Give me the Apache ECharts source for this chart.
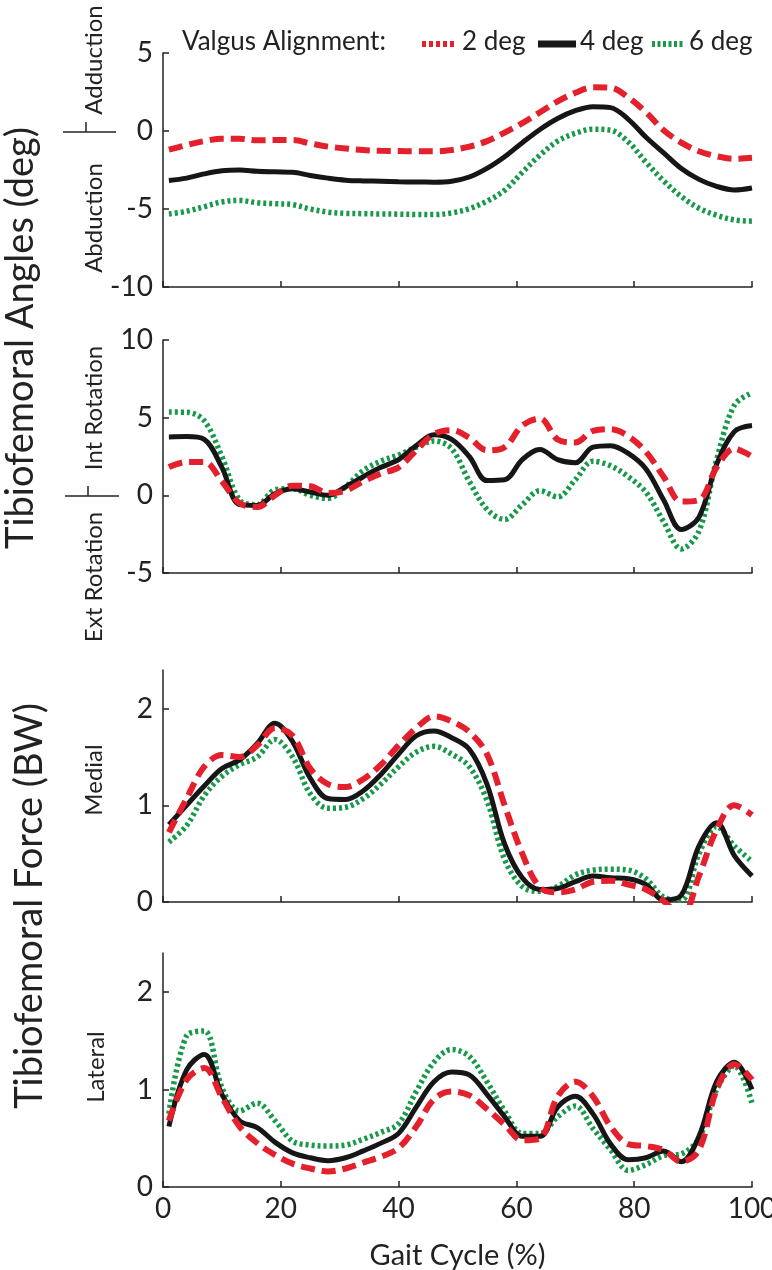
<!DOCTYPE html>
<html>
<head>
<meta charset="utf-8">
<script src="https://cdn.jsdelivr.net/npm/echarts@6/dist/echarts.min.js"></script>
<style>
html,body{margin:0;padding:0;background:#fff;}
#chart{width:772px;height:1270px;}
</style>
</head>
<body>
<div id="chart"></div>
<script>
// ---- data ----
const gaitPct = [1,4,7,10,13,16,19,22,25,28,31,34,37,40,43,46,49,52,55,58,61,64,67,70,73,76,79,82,85,88,91,94,97,100];
const seriesNames = ['2 deg','4 deg','6 deg'];

// Panel 1: Abduction/Adduction angle (deg)
const adduction2 = [-1.2,-0.9,-0.65,-0.5,-0.5,-0.6,-0.58,-0.58,-0.8,-1.0,-1.12,-1.22,-1.27,-1.29,-1.3,-1.3,-1.22,-1.0,-0.65,-0.1,0.5,1.2,1.9,2.45,2.8,2.78,2.15,1.2,0.05,-0.75,-1.3,-1.62,-1.78,-1.72];
const adduction4 = [-3.18,-3.02,-2.75,-2.55,-2.5,-2.58,-2.62,-2.65,-2.85,-3.02,-3.15,-3.2,-3.22,-3.25,-3.27,-3.28,-3.22,-2.95,-2.4,-1.65,-0.75,0.1,0.8,1.3,1.56,1.5,0.75,-0.4,-1.4,-2.4,-3.1,-3.55,-3.78,-3.65];
const adduction6 = [-5.32,-5.15,-4.85,-4.55,-4.45,-4.6,-4.66,-4.72,-5.0,-5.2,-5.28,-5.3,-5.32,-5.33,-5.35,-5.36,-5.25,-4.98,-4.5,-3.8,-2.65,-1.55,-0.65,-0.15,0.12,0.05,-0.7,-2.0,-3.2,-4.2,-4.95,-5.4,-5.7,-5.78];

// Panel 2: Int/Ext rotation (deg)
const rotation2 = [1.82,2.15,2.15,0.9,-0.5,-0.75,0.0,0.62,0.58,0.15,0.3,0.9,1.4,1.8,2.9,3.95,4.2,3.7,2.9,3.1,4.5,4.95,3.6,3.4,4.15,4.25,3.8,2.8,1.2,-0.4,-0.3,1.8,3.0,2.5];
const rotation4 = [3.76,3.78,3.6,1.8,-0.6,-0.65,0.1,0.43,0.21,0.0,0.55,1.2,1.8,2.3,3.2,3.9,3.6,2.5,0.95,1.0,2.3,2.95,2.3,2.1,3.1,3.2,2.7,1.7,-0.3,-2.2,-1.4,2.0,4.1,4.5];
const rotation6 = [5.36,5.35,4.8,2.5,-0.3,-0.6,0.35,0.43,0.0,-0.2,0.55,1.6,2.2,2.6,3.1,3.5,3.0,0.9,-0.9,-1.55,-0.6,0.3,-0.1,1.0,2.2,1.9,1.2,0.2,-1.7,-3.45,-2.3,2.3,5.8,6.6];

// Panel 3: Medial force (BW)
const medial2 = [0.72,1.07,1.4,1.52,1.5,1.62,1.8,1.72,1.38,1.22,1.19,1.27,1.42,1.62,1.8,1.92,1.87,1.76,1.53,1.0,0.5,0.15,0.1,0.13,0.21,0.22,0.18,0.13,0.01,-0.15,0.27,0.75,1.0,0.9];
const medial4 = [0.8,1.0,1.2,1.38,1.47,1.64,1.85,1.66,1.28,1.07,1.06,1.15,1.32,1.53,1.72,1.77,1.7,1.58,1.22,0.6,0.25,0.13,0.14,0.21,0.27,0.25,0.24,0.18,0.02,0.07,0.58,0.82,0.48,0.27];
const medial6 = [0.62,0.79,1.1,1.3,1.42,1.5,1.68,1.5,1.12,0.97,0.98,1.07,1.22,1.4,1.55,1.61,1.53,1.4,1.05,0.44,0.16,0.11,0.16,0.28,0.33,0.34,0.33,0.24,0.05,0.02,0.5,0.78,0.58,0.42];

// Panel 4: Lateral force (BW)
const lateral2 = [0.68,1.1,1.22,0.92,0.62,0.45,0.33,0.24,0.19,0.16,0.19,0.25,0.31,0.4,0.62,0.9,0.98,0.94,0.8,0.64,0.48,0.5,0.93,1.08,0.93,0.62,0.44,0.42,0.38,0.26,0.38,1.0,1.26,1.1];
const lateral4 = [0.62,1.2,1.36,0.95,0.68,0.61,0.46,0.35,0.3,0.27,0.3,0.37,0.45,0.55,0.82,1.08,1.18,1.15,0.95,0.72,0.52,0.52,0.82,0.93,0.75,0.44,0.28,0.3,0.37,0.26,0.52,1.08,1.28,1.0];
const lateral6 = [0.75,1.55,1.6,1.02,0.78,0.86,0.68,0.47,0.43,0.42,0.43,0.49,0.56,0.65,0.98,1.28,1.41,1.34,1.08,0.78,0.55,0.55,0.72,0.83,0.6,0.38,0.17,0.23,0.32,0.34,0.5,1.0,1.24,0.86];

const xTicks = [0,20,40,60,80,100];
const forceTicks = [0,1,2];

// ---- styling ----
const FONT = 'Lato, "Open Sans", sans-serif';
const RED = '#e3202b', BLACK = '#161616', GREEN = '#17994a';
const AXIS = '#222';

const grids = [
  {left:163, width:589, top:53,  height:234},
  {left:163, width:589, top:340, height:233},
  {left:163, width:589, top:670, height:232},
  {left:163, width:589, top:953, height:234}
].map(g => Object.assign({containLabel:false, outerBoundsMode:'none'}, g));

function xAxis(i){
  return {
    type:'value', gridIndex:i, min:0, max:100, interval:20,
    axisLine:{show:true, onZero:false, lineStyle:{color:AXIS, width:1.5}},
    axisTick:{show:true, inside:true, length:6, lineStyle:{color:AXIS, width:1.5}},
    axisLabel:{show:i===3, fontFamily:FONT, fontSize:28, color:'#222', margin:8},
    splitLine:{show:false},
    name: i===3 ? 'Gait Cycle (%)' : '',
    nameLocation:'middle', nameGap:54,
    nameTextStyle:{fontFamily:FONT, fontSize:29, color:'#222'}
  };
}
function yAxis(i, min, max, interval, custom){
  const a = {
    type:'value', gridIndex:i, min:min, max:max, interval:interval,
    axisLine:{show:true, onZero:false, lineStyle:{color:AXIS, width:1.5}},
    axisTick:{show:true, inside:true, length:6, lineStyle:{color:AXIS, width:1.5}},
    axisLabel:{show:true, fontFamily:FONT, fontSize:28, color:'#222', margin:10},
    splitLine:{show:false}
  };
  if (custom){ a.axisTick.customValues = custom; a.axisLabel.customValues = custom; }
  return a;
}

function mk(name, arr, gi, color, type, width, z){
  return {
    name:name, type:'line', xAxisIndex:gi, yAxisIndex:gi,
    data: gaitPct.map((x,k)=>[x, arr[k]]),
    showSymbol:false, smooth:0.35, clip:true, z:z, silent:true,
    lineStyle:{color:color, width:width, type:type, cap:'butt'}
  };
}
const panels = [
  [adduction2, adduction4, adduction6],
  [rotation2, rotation4, rotation6],
  [medial2, medial4, medial6],
  [lateral2, lateral4, lateral6]
];
const series = [];
panels.forEach((p, gi) => {
  series.push(mk(seriesNames[2], p[2], gi, GREEN, [3,3], 5.5, 2));
  series.push(mk(seriesNames[1], p[1], gi, BLACK, 'solid', 5, 3));
  series.push(mk(seriesNames[0], p[0], gi, RED, [14,7], 6, 4));
});

function vtext(txt, x, y, size){
  return {type:'text', x:x, y:y, rotation:Math.PI/2,
    style:{text:txt, fontFamily:FONT, fontSize:size, fill:'#222', align:'center', verticalAlign:'middle'}};
}
function hline(x1,y1,x2,y2,stroke,w,dash){
  return {type:'line', shape:{x1:x1,y1:y1,x2:x2,y2:y2},
    style:{stroke:stroke, lineWidth:w, lineDash:dash||null}};
}
function ltext(txt,x,y){
  return {type:'text', x:x, y:y, style:{text:txt, fontFamily:FONT, fontSize:26, fill:'#222', align:'left', verticalAlign:'middle'}};
}

const graphic = [
  vtext('Tibiofemoral Angles (deg)', 21, 338, 38),
  vtext('Tibiofemoral Force (BW)', 30, 906, 38),
  vtext('Adduction', 94, 60, 24),
  vtext('Abduction', 94, 218, 24),
  vtext('Int Rotation', 94, 408, 24),
  vtext('Ext Rotation', 94, 577, 24),
  vtext('Medial', 94, 780, 24),
  vtext('Lateral', 96, 1067, 24),
  hline(63,132,116,132,'#222',1.5),
  hline(86,122,86,132,'#222',1.5),
  hline(65,496,119,496,'#222',1.5),
  hline(88,486,88,496,'#222',1.5),
  // legend
  ltext('Valgus Alignment:', 182, 42),
  hline(422,44,456,44,RED,6,[4,3]),
  ltext('2 deg', 462, 42),
  hline(538,44,576,44,BLACK,7),
  ltext('4 deg', 580, 42),
  hline(652,44,685,44,GREEN,6,[3,2.5]),
  ltext('6 deg', 689, 42)
];

const chart = echarts.init(document.getElementById('chart'), null, {renderer:'canvas'});
chart.setOption({
  animation:false,
  backgroundColor:'#fff',
  grid: grids,
  xAxis: [0,1,2,3].map(xAxis),
  yAxis: [
    yAxis(0,-10,5,5),
    yAxis(1,-5,10,5),
    yAxis(2,0,2.4,1,forceTicks),
    yAxis(3,0,2.4,1,forceTicks)
  ],
  series: series,
  graphic: graphic
});
</script>
</body>
</html>
